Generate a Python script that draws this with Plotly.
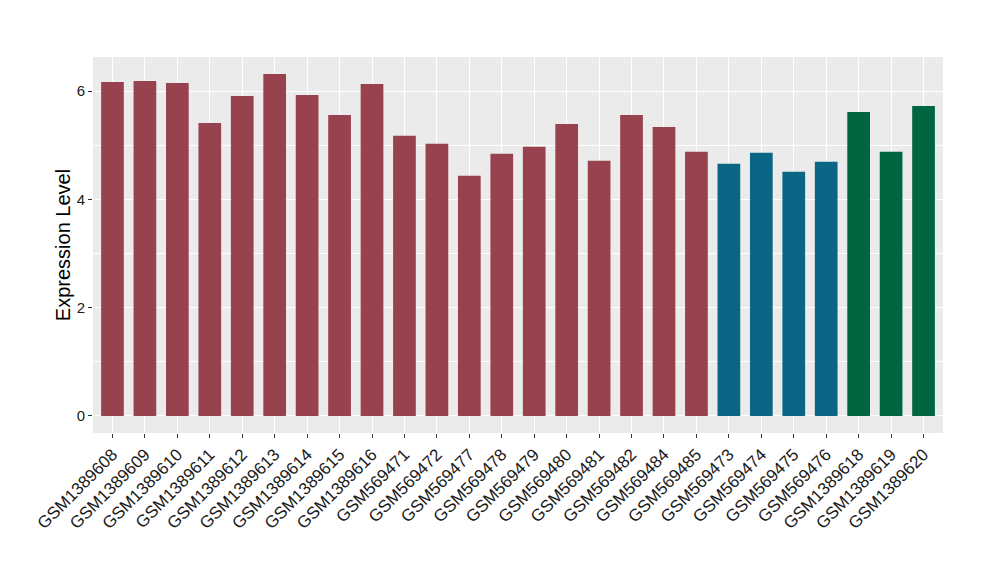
import plotly.graph_objects as go

samples = ["GSM1389608", "GSM1389609", "GSM1389610", "GSM1389611", "GSM1389612",
           "GSM1389613", "GSM1389614", "GSM1389615", "GSM1389616", "GSM569471",
           "GSM569472", "GSM569477", "GSM569478", "GSM569479", "GSM569480",
           "GSM569481", "GSM569482", "GSM569484", "GSM569485", "GSM569473",
           "GSM569474", "GSM569475", "GSM569476", "GSM1389618", "GSM1389619",
           "GSM1389620"]
values = [6.166, 6.184, 6.147, 5.411, 5.908, 6.313, 5.926, 5.558, 6.129, 5.172,
          5.025, 4.436, 4.840, 4.969, 5.393, 4.712, 5.558, 5.337, 4.877, 4.656,
          4.859, 4.509, 4.693, 5.613, 4.877, 5.724]
groups = ["A"] * 19 + ["B"] * 4 + ["C"] * 3
group_colors = {"A": "#99424F", "B": "#0B6585", "C": "#006641"}

colors = [group_colors[g] for g in groups]

fig = go.Figure(go.Bar(x=samples, y=values, marker=dict(color=colors, line=dict(width=0)),
                       width=0.7, showlegend=False))

ymax = max(values)
pad = ymax * 0.05
fig.update_layout(
    width=1000, height=580,
    margin=dict(l=85, r=65, t=49, b=155),
    paper_bgcolor="white", plot_bgcolor="#EBEBEB",
    font=dict(family="Liberation Sans, Arial, sans-serif", color="#1A1A1A"),
    bargap=0.3,
)
fig.update_xaxes(
    type="category", range=[-0.6, len(samples) - 0.4],
    tickangle=-45, tickfont=dict(size=17, color="#1A1A1A"),
    showgrid=True, gridcolor="white", gridwidth=1.4,
    ticks="outside", ticklen=4, tickcolor="#333333", tickwidth=1,
    zeroline=False, showline=False, automargin=False,
)
fig.update_yaxes(
    range=[-pad, ymax + pad], tickvals=[0, 2, 4, 6], ticktext=["0", "2", "4", "6"],
    tickfont=dict(size=15, color="#1A1A1A"),
    showgrid=True, gridcolor="white", gridwidth=1.4,
    minor=dict(tickvals=[1, 3, 5], showgrid=True, gridcolor="white", gridwidth=0.7, ticks=""),
    ticks="outside", ticklen=4, tickcolor="#333333", tickwidth=1,
    zeroline=False, showline=False, automargin=False,
    title=dict(text="Expression Level", font=dict(size=20, color="#000000"), standoff=0),
)

fig.write_html("out.html")
